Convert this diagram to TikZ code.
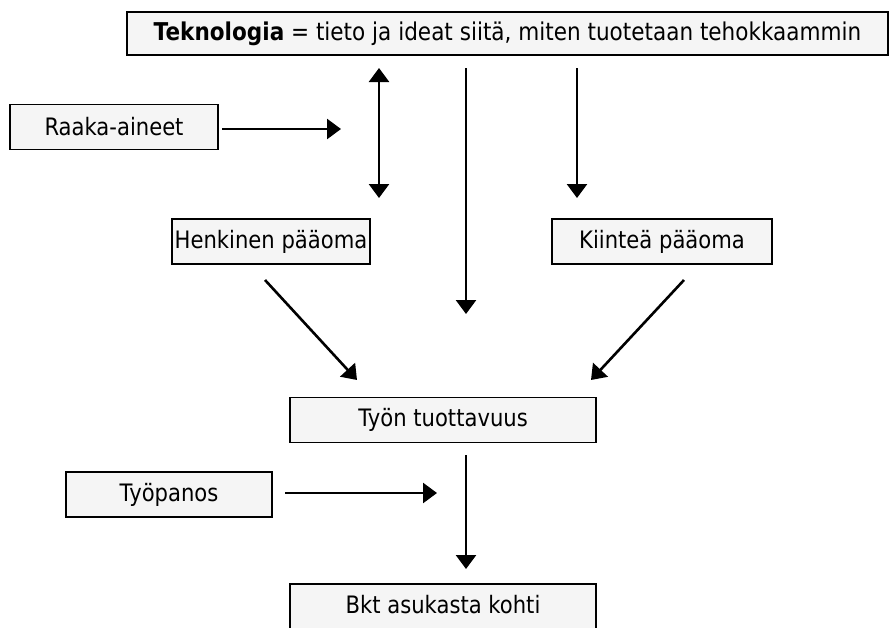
\documentclass[tikz,border=0pt]{standalone}
\usepackage{fontspec}
\setmainfont[FakeStretch=0.88]{DejaVu Sans}
\usetikzlibrary{arrows.meta}
\definecolor{boxfill}{HTML}{F5F5F5}
\tikzset{
  box/.style={draw=black, line width=1.8pt, fill=boxfill, rectangle, inner sep=0pt,
    minimum height=45pt, font=\fontsize{24}{28}\selectfont},
  arr/.style={line width=2.6pt, -{Triangle[length=14pt,width=20pt]}},
  darr/.style={line width=2.6pt, {Triangle[length=14pt,width=20pt]}-{Triangle[length=14pt,width=20pt]}}
}
\begin{document}
\begin{tikzpicture}[x=1pt,y=-1pt]
\useasboundingbox (0,0) rectangle (890,627);
\fill[white] (0,0) rectangle (890,627);
% boxes
\node[box, minimum width=761pt, minimum height=43pt, font=\fontsize{24.5}{28}\selectfont] (tek) at (507.5,33.5) {\textbf{Teknologia} = tieto ja ideat siitä, miten tuotetaan tehokkaammin};
\node[box, minimum width=208pt] (raaka) at (114,127) {Raaka-aineet};
\node[box, minimum width=198pt] (henk) at (271,241.5) {Henkinen pääoma};
\node[box, minimum width=220pt] (kiint) at (662,241.5) {Kiinteä pääoma};
\node[box, minimum width=306pt] (tyon) at (443,420) {Työn tuottavuus};
\node[box, minimum width=206pt] (tyop) at (169,494.5) {Työpanos};
\node[box, minimum width=306pt, minimum height=50pt, text depth=0pt] (bkt) at (443,609) {};
\node[font=\fontsize{24}{28}\selectfont, inner sep=0pt] (bkttext) at (443,605) {Bkt asukasta kohti};
% free arrow ends
\coordinate (r1) at (222,129);
\coordinate (r2) at (341,129);
\coordinate (d1) at (379,68);
\coordinate (d2) at (379,198);
\coordinate (m1) at (466,68);
\coordinate (m2) at (466,314);
\coordinate (k1) at (577,68);
\coordinate (k2) at (577,198);
\coordinate (h1) at (265,280);
\coordinate (h2) at (357,380);
\coordinate (q1) at (684,280);
\coordinate (q2) at (591,380);
\coordinate (t1) at (285,493);
\coordinate (t2) at (437,493);
\coordinate (b1) at (466,455);
\coordinate (b2) at (466,569);
% connectors
\draw[arr] (r1) -- (r2);
\draw[darr] (d1) -- (d2);
\draw[arr] (m1) -- (m2);
\draw[arr] (k1) -- (k2);
\draw[arr] (h1) -- (h2);
\draw[arr] (q1) -- (q2);
\draw[arr] (t1) -- (t2);
\draw[arr] (b1) -- (b2);
\end{tikzpicture}
\end{document}
